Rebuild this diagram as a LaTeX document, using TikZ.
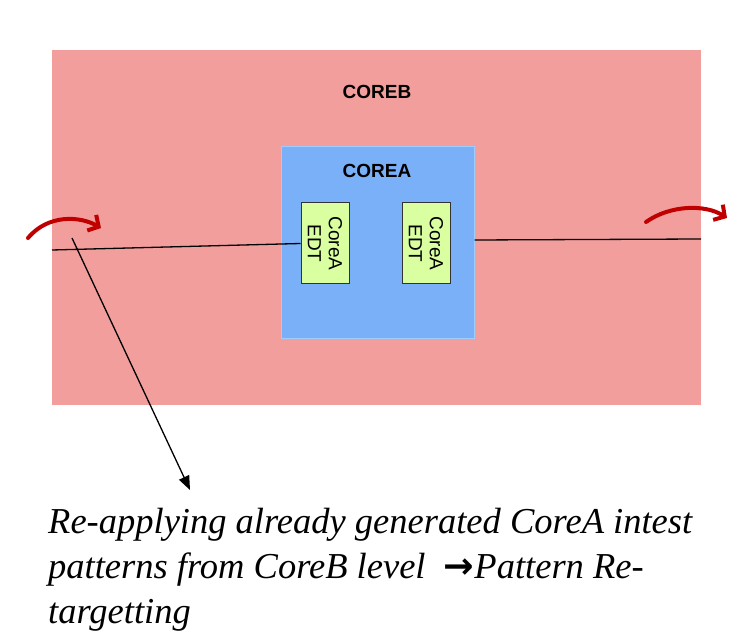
\documentclass[tikz,border=0pt]{standalone}
\usepackage{fontspec}
\setmainfont{Liberation Serif}
\setsansfont{Liberation Sans}
\newfontfamily\symfont{DejaVu Sans}
\usetikzlibrary{arrows.meta}
\definecolor{corebfill}{RGB}{242,158,156}
\definecolor{coreafill}{RGB}{122,176,248}
\definecolor{coreaedge}{RGB}{160,205,255}
\definecolor{edtfill}{RGB}{217,255,160}
\definecolor{redarrow}{RGB}{192,0,0}
\tikzset{
  coreblock/.style={draw=none,fill=corebfill,minimum width=649pt,minimum height=355pt,inner sep=0pt},
  coreablock/.style={draw=coreaedge,line width=1pt,fill=coreafill,minimum width=193pt,minimum height=192pt,inner sep=0pt},
  edtbox/.style={draw=black!80,line width=1pt,fill=edtfill,minimum width=81pt,minimum height=48pt,inner sep=0pt,rotate=-90,align=center,font=\sffamily\fontsize{19}{21}\selectfont},
  blocklabel/.style={font=\sffamily\bfseries\fontsize{19}{21}\selectfont},
  wire/.style={black,line width=1.3pt},
  redcurve/.style={redarrow,line width=4pt,line cap=round,-{Straight Barb[length=8pt,width=18pt,line width=4pt]}},
  note/.style={font=\itshape\fontsize{36.5}{45}\selectfont,align=left,anchor=north west,inner sep=0pt}
}
\begin{document}
\begin{tikzpicture}[x=1pt,y=-1pt]
\useasboundingbox (0,0) rectangle (748,644);
\node[coreblock] (coreb) at (376.5,227.5) {};
\node[blocklabel] (corebl) at (377,92) {COREB};
\node[coreablock] (corea) at (377.5,243) {};
\node[blocklabel] (coreal) at (377,171) {COREA};
\node[edtbox] (edt1) at (325,243.5) {CoreA\\EDT};
\node[edtbox] (edt2) at (426,243.5) {CoreA\\EDT};
\coordinate (inl) at (52,250);
\coordinate (outr) at (701,239);
\draw[wire] (inl) -- (edt1.south);
\draw[wire] (corea.east |- 0,240) -- (outr);
\coordinate (a1s) at (28,238);
\coordinate (a1e) at (101,228);
\draw[redcurve] (a1s) .. controls (48,214) and (80,216) .. (a1e);
\coordinate (a2s) at (646,222);
\coordinate (a2e) at (727,218);
\draw[redcurve] (a2s) .. controls (670,205) and (705,204) .. (a2e);
\coordinate (ptr) at (72,238);
\node[note] (txt) at (48,508) {Re-applying already generated CoreA intest\\patterns from CoreB level\ \ {\upshape\symfont\bfseries →}Pattern Re-\\targetting};
\draw[black,line width=1.3pt,-{Triangle[length=14pt,width=11pt]}] (ptr) -- (190,490);
\end{tikzpicture}
\end{document}
